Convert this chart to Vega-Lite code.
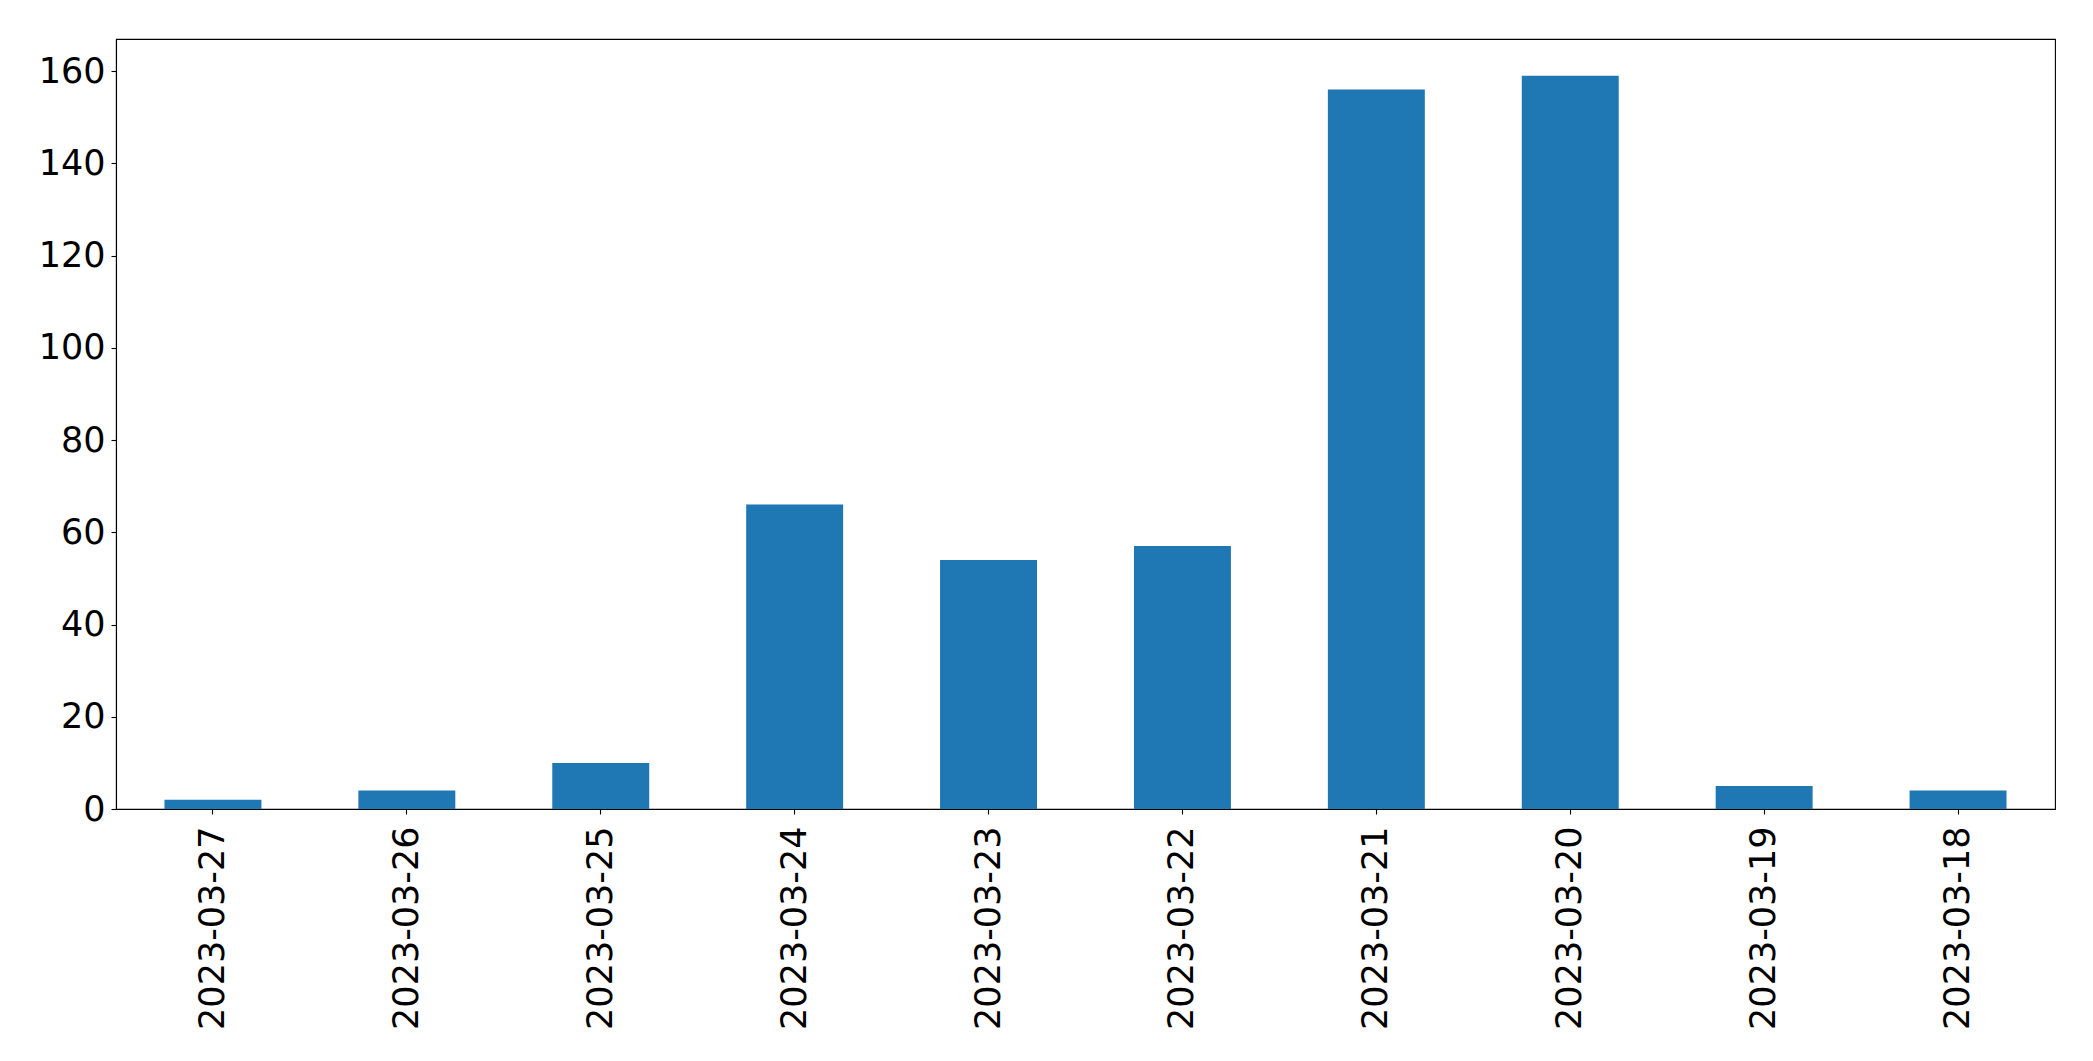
{
  "$schema": "https://vega.github.io/schema/vega-lite/v6.json",
  "autosize": {"type": "none"},
  "padding": {"left": 116, "top": 39, "right": 38, "bottom": 252},
  "width": 1939,
  "height": 770,
  "background": "white",
  "config": {
    "view": {"stroke": "black", "strokeWidth": 1.1},
    "font": "DejaVu Sans"
  },
  "data": {
    "values": [
      {"date": "2023-03-27", "count": 2},
      {"date": "2023-03-26", "count": 4},
      {"date": "2023-03-25", "count": 10},
      {"date": "2023-03-24", "count": 66},
      {"date": "2023-03-23", "count": 54},
      {"date": "2023-03-22", "count": 57},
      {"date": "2023-03-21", "count": 156},
      {"date": "2023-03-20", "count": 159},
      {"date": "2023-03-19", "count": 5},
      {"date": "2023-03-18", "count": 4}
    ]
  },
  "mark": {"type": "bar", "color": "#1f77b4"},
  "encoding": {
    "x": {
      "field": "date",
      "type": "nominal",
      "sort": null,
      "scale": {"paddingInner": 0.5, "paddingOuter": 0.25},
      "axis": {
        "title": null,
        "labelAngle": -90,
        "labelFont": "DejaVu Sans",
        "labelFontSize": 35,
        "labelLimit": 0,
        "labelColor": "black",
        "labelPadding": 12,
        "tickColor": "black",
        "tickSize": 5,
        "tickWidth": 1.1,
        "domainColor": "black",
        "domainWidth": 1.1
      }
    },
    "y": {
      "field": "count",
      "type": "quantitative",
      "scale": {"domain": [0, 166.95], "nice": false},
      "axis": {
        "title": null,
        "values": [0, 20, 40, 60, 80, 100, 120, 140, 160],
        "grid": false,
        "labelFont": "DejaVu Sans",
        "labelFontSize": 35,
        "labelColor": "black",
        "labelPadding": 6,
        "tickColor": "black",
        "tickSize": 5,
        "tickWidth": 1.1,
        "domainColor": "black",
        "domainWidth": 1.1
      }
    }
  }
}
